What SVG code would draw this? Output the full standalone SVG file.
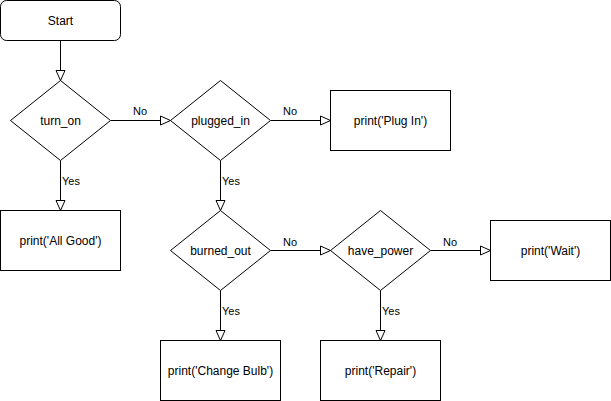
<svg xmlns="http://www.w3.org/2000/svg" width="611" height="401" viewBox="0 0 611 401">
<style>
.n{fill:#fff;stroke:#000;stroke-width:1}
.t{font-family:"Liberation Sans",Arial,Helvetica,sans-serif;font-size:12px;fill:#000;text-anchor:middle}
.c{fill:none;stroke:#000;stroke-width:1}
.l{font-family:"Liberation Sans",Arial,Helvetica,sans-serif;font-size:11px;fill:#000}
</style>
<defs>
<marker id="ah" markerUnits="userSpaceOnUse" markerWidth="12" markerHeight="12" viewBox="-1 -1 12 11" refX="10" refY="4.5" orient="auto">
<path d="M0,0 L10,4.5 L0,9 Z" fill="#fff" stroke="#000" stroke-width="1"/>
</marker>
</defs>
<rect width="611" height="401" fill="#fff"/>
<g id="connectors">
<path class="c" d="M60.5,40.5 V80.5" marker-end="url(#ah)"/>
<path class="c" d="M110.5,120.5 H170.5" marker-end="url(#ah)"/>
<text class="l" x="140" y="114.5" text-anchor="middle">No</text>
<path class="c" d="M270.5,120.5 H330.5" marker-end="url(#ah)"/>
<text class="l" x="290" y="114.5" text-anchor="middle">No</text>
<path class="c" d="M60.5,160.5 V210.5" marker-end="url(#ah)"/>
<text class="l" x="62" y="184.5">Yes</text>
<path class="c" d="M220.5,160.5 V210.5" marker-end="url(#ah)"/>
<text class="l" x="222" y="184.5">Yes</text>
<path class="c" d="M270.5,250.5 H330.5" marker-end="url(#ah)"/>
<text class="l" x="290" y="245.5" text-anchor="middle">No</text>
<path class="c" d="M430.5,250.5 H490.5" marker-end="url(#ah)"/>
<text class="l" x="450" y="245.5" text-anchor="middle">No</text>
<path class="c" d="M220.5,290.5 V340.5" marker-end="url(#ah)"/>
<text class="l" x="222" y="314.5">Yes</text>
<path class="c" d="M380.5,290.5 V340.5" marker-end="url(#ah)"/>
<text class="l" x="382" y="314.5">Yes</text>
</g>
<g id="start">
<rect class="n" x="0.5" y="0.5" width="120" height="40" rx="6" ry="6"/>
<text class="t" x="60.5" y="25">Start</text>
</g>
<g id="turn_on">
<path class="n" d="M60.5,80.5 L110.5,120.5 L60.5,160.5 L10.5,120.5 Z"/>
<text class="t" x="60.5" y="125">turn_on</text>
</g>
<g id="plugged_in">
<path class="n" d="M220.5,80.5 L270.5,120.5 L220.5,160.5 L170.5,120.5 Z"/>
<text class="t" x="220.5" y="125">plugged_in</text>
</g>
<g id="plug_in">
<rect class="n" x="330.5" y="90.5" width="120" height="60"/>
<text class="t" x="390.5" y="125">print('Plug In')</text>
</g>
<g id="all_good">
<rect class="n" x="0.5" y="210.5" width="120" height="60"/>
<text class="t" x="60.5" y="245">print('All Good')</text>
</g>
<g id="burned_out">
<path class="n" d="M220.5,210.5 L270.5,250.5 L220.5,290.5 L170.5,250.5 Z"/>
<text class="t" x="220.5" y="255">burned_out</text>
</g>
<g id="have_power">
<path class="n" d="M380.5,210.5 L430.5,250.5 L380.5,290.5 L330.5,250.5 Z"/>
<text class="t" x="380.5" y="255">have_power</text>
</g>
<g id="wait">
<rect class="n" x="490.5" y="220.5" width="120" height="60"/>
<text class="t" x="550.5" y="255">print('Wait')</text>
</g>
<g id="change_bulb">
<rect class="n" x="160.5" y="340.5" width="120" height="60"/>
<text class="t" x="220.5" y="375">print('Change Bulb')</text>
</g>
<g id="repair">
<rect class="n" x="320.5" y="340.5" width="120" height="60"/>
<text class="t" x="380.5" y="375">print('Repair')</text>
</g>
</svg>
